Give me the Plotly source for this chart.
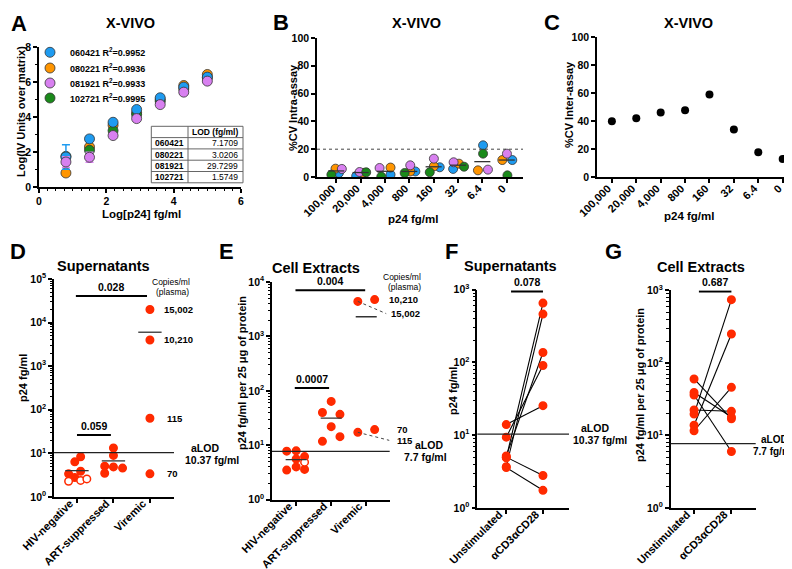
import numpy as np
import plotly.graph_objects as go

W, H = 792, 569
FONT = "Liberation Sans, Arial, sans-serif"
RED = "#ff2a00"

# ---------------- A: standard curves (log IV units vs log p24)
a_log_p24 = [0.8, 1.5, 2.2, 2.9, 3.6, 4.3, 5.0]
a_ids = ["060421", "080221", "081921", "102721"]
a_r2 = ["0.9952", "0.9936", "0.9933", "0.9995"]
a_lod = ["7.1709", "3.0206", "29.7299", "1.5749"]
a_060421 = [1.72, 2.75, 3.70, 4.43, 5.10, 5.71, 6.28]
a_080221 = [0.80, 2.29, 3.53, 4.24, 5.00, 5.80, 6.43]
a_081921 = [1.43, 1.70, 2.94, 3.91, 4.71, 5.42, 6.05]
a_102721 = [1.75, 2.10, 3.22, 4.14, 4.90, 5.60, 6.24]
a_err_060421 = [0.70, 0, 0, 0, 0, 0, 0]
a_err_081921 = [0.30, 0.28, 0, 0, 0, 0, 0]

# ---------------- B / C: %CV by p24 concentration
cv_cats = ["100,000", "20,000", "4,000", "800", "160", "32", "6.4", "0"]
b_060421 = [2.9, 0.7, 1.7, 4.0, 7.0, 5.8, 22.8, 12.2]
b_080221 = [6.0, 3.0, 6.8, 4.0, 7.7, 9.6, 4.8, 12.2]
b_081921 = [5.8, 3.6, 6.5, 8.4, 13.2, 10.6, 5.3, 16.8]
b_102721 = [1.7, 3.4, 0.3, 2.9, 3.4, 7.4, 16.8, 1.2]
c_inter = [39.8, 42.0, 46.0, 47.7, 59.0, 34.0, 17.7, 12.9]

# ---------------- D / E: p24 by group
groups = ["HIV-negative", "ART-suppressed", "Viremic"]
d_hivneg = [8.4, 6.4, 3.9, 3.4, 2.8]
d_hivneg_open = [2.3, 2.4, 2.6]
d_art = [13.3, 9.0, 5.1, 4.9, 4.6, 3.5]
d_viremic = [20000, 4000, 64, 3.4]
d_copies = ["15,002", "10,210", "115", "70"]
e_hivneg = [7.8, 7.9, 6.2, 5.6, 4.0, 3.5, 3.6]
e_hivneg_open = [4.9]
e_art = [64, 40, 37, 22, 14.4, 11.8]
e_viremic = [4400, 4750, 17.3, 19.4]
e_copies = ["15,002", "10,210", "115", "70"]

# ---------------- F / G: paired stimulation
stim_cats = ["Unstimulated", "αCD3αCD28"]
f_unstim = [14.0, 9.4, 5.2, 5.0, 4.9, 3.7, 3.6]
f_stim = [25.5, 91, 137, 2.8, 655, 462, 1.75]
g_unstim = [60, 39, 36, 22.4, 19.7, 13.8, 11.6]
g_stim = [17, 17.9, 6.0, 21.5, 743, 250, 46]

alod_sup = 10.37
alod_cell = 7.7

# jitter (category units) -- style only
b_jit = {
    "060421": [0.11, -0.18, 0.23, 0.25, 0.25, -0.20, 0.03, 0.23],
    "080221": [-0.03, 0.10, 0.23, 0.04, 0.01, 0.04, -0.18, -0.18],
    "081921": [0.23, -0.04, -0.22, 0.04, 0.01, -0.18, 0.23, 0.01],
    "102721": [-0.20, 0.23, -0.15, -0.19, -0.16, 0.25, 0.03, 0.03],
}
d_jit_neg = [0.10, -0.06, 0.10, -0.23, -0.06]
d_jit_neg_open = [-0.23, 0.10, 0.27]
d_jit_art = [0, 0, -0.24, 0, 0.25, -0.24]
e_jit_neg = [-0.27, 0, 0.24, 0, 0, -0.27, 0.24]
e_jit_neg_open = [0.24]
e_jit_art = [0, -0.25, 0.25, 0, 0.25, -0.25]
e_jit_vir = [-0.24, 0.24, -0.24, 0.24]

colors = {"060421": "#1e9bf0", "080221": "#ff9500", "081921": "#d880f0", "102721": "#1a8a1a"}


def px(x):
    return x / W


def py(y):
    return 1 - y / H


fig = go.Figure()

# ---- A (one small legend per series so the rows sit where the reference has them)
a_series = {"060421": a_060421, "080221": a_080221, "081921": a_081921, "102721": a_102721}
a_err = {"060421": a_err_060421, "081921": a_err_081921}
legend_of = {"060421": "legend", "080221": "legend2", "081921": "legend3", "102721": "legend4"}
for sid in ["080221", "102721", "060421", "081921"]:
    r2 = a_r2[a_ids.index(sid)]
    err = a_err.get(sid)
    fig.add_trace(go.Scatter(
        x=a_log_p24, y=a_series[sid], mode="markers", xaxis="x", yaxis="y",
        name=f"{sid} R<sup>2</sup>={r2}", legend=legend_of[sid],
        marker=dict(size=10, color=colors[sid], line=dict(width=0.8, color="#333")),
        error_y=dict(type="data", array=err, color=colors[sid], thickness=1.5, width=4, visible=err is not None),
        showlegend=True,
    ))

# ---- B
for sid, vals in [("060421", b_060421), ("080221", b_080221), ("081921", b_081921), ("102721", b_102721)]:
    fig.add_trace(go.Scatter(
        x=[i + j for i, j in enumerate(b_jit[sid])], y=vals, mode="markers",
        xaxis="x2", yaxis="y2", showlegend=False,
        marker=dict(size=9, color=colors[sid], line=dict(width=0.8, color="#333")),
    ))
b_med = np.median([b_060421, b_080221, b_081921, b_102721], axis=0)
mx, my = [], []
for i, m in enumerate(b_med):
    mx += [i - 0.33, i + 0.33, None]
    my += [m, m, None]
fig.add_trace(go.Scatter(x=mx, y=my, mode="lines", xaxis="x2", yaxis="y2", showlegend=False,
                         line=dict(color="#333", width=1.3)))

# ---- C
fig.add_trace(go.Scatter(x=list(range(len(cv_cats))), y=c_inter, mode="markers", xaxis="x3", yaxis="y3",
                         showlegend=False, marker=dict(size=8, color="black")))


def mean_line(means, xa, ya, w):
    lx, ly = [], []
    for i, m in enumerate(means):
        lx += [i - w, i + w, None]
        ly += [m, m, None]
    fig.add_trace(go.Scatter(x=lx, y=ly, mode="lines", xaxis=xa, yaxis=ya, showlegend=False,
                             line=dict(color="#333", width=1.3)))


def red_pts(xs, ys, xa, ya, hollow=False):
    fig.add_trace(go.Scatter(
        x=xs, y=ys, mode="markers", xaxis=xa, yaxis=ya, showlegend=False,
        marker=dict(size=7.5, color="white" if hollow else RED, line=dict(width=1.5, color=RED)),
    ))


# ---- D
red_pts([0 + j for j in d_jit_neg], d_hivneg, "x4", "y4")
red_pts([0 + j for j in d_jit_neg_open], d_hivneg_open, "x4", "y4", hollow=True)
red_pts([1 + j for j in d_jit_art], d_art, "x4", "y4")
red_pts([2] * len(d_viremic), d_viremic, "x4", "y4")
mean_line([np.mean(d_hivneg + d_hivneg_open), np.mean(d_art), np.mean(d_viremic)], "x4", "y4", 0.32)

# ---- E
red_pts([0 + j for j in e_jit_neg], e_hivneg, "x5", "y5")
red_pts([0 + j for j in e_jit_neg_open], e_hivneg_open, "x5", "y5", hollow=True)
red_pts([1 + j for j in e_jit_art], e_art, "x5", "y5")
red_pts([2 + j for j in e_jit_vir], e_viremic, "x5", "y5")
mean_line([np.mean(e_hivneg + e_hivneg_open), np.mean(e_art), np.mean(e_viremic)], "x5", "y5", 0.3)

# dotted connectors from viremic points to copy-number labels (E)
conn_ends = [(2.57, 2625), (2.66, 12.3)]
for k, (cx, cy) in zip([0, 2], conn_ends):
    fig.add_trace(go.Scatter(x=[2 + e_jit_vir[k], cx], y=[e_viremic[k], cy], mode="lines",
                             xaxis="x5", yaxis="y5", showlegend=False,
                             line=dict(color="#444", width=1, dash="dot")))


# ---- F / G paired
def paired(u, s, xa, ya):
    lx, ly = [], []
    for a, b in zip(u, s):
        lx += [0, 1, None]
        ly += [a, b, None]
    fig.add_trace(go.Scatter(x=lx, y=ly, mode="lines", xaxis=xa, yaxis=ya, showlegend=False,
                             line=dict(color="black", width=1.1)))
    red_pts([0] * len(u) + [1] * len(s), u + s, xa, ya)


paired(f_unstim, f_stim, "x6", "y6")
paired(g_unstim, g_stim, "x7", "y7")

# significance bars: (xaxis, yaxis, x0, x1, y, text)
sig_bars = [
    ("x4", "y4", -0.03, 1.92, 4.1e4, "0.028"),
    ("x4", "y4", 0.0, 0.93, 26.4, "0.059"),
    ("x5", "y5", -0.02, 1.97, 7080, "0.004"),
    ("x5", "y5", -0.04, 0.94, 113, "0.0007"),
    ("x6", "y6", 0.13, 1.0, 948, "0.078"),
    ("x7", "y7", 0.13, 1.0, 966, "0.687"),
]
annotations = []
for xa, ya, x0, x1, yv, t in sig_bars:
    fig.add_trace(go.Scatter(x=[x0, x1], y=[yv, yv], mode="lines", xaxis=xa, yaxis=ya, showlegend=False,
                             line=dict(color="black", width=2), cliponaxis=False))
    annotations.append(dict(x=(x0 + x1) / 2, y=np.log10(yv), xref=xa, yref=ya, text=t, showarrow=False,
                            yanchor="bottom", yshift=1, font=dict(size=10.5)))

# ---------------- axes
tickfont = dict(size=10.5, family=FONT, color="black", weight="bold")
cat_tickfont = dict(size=11, family=FONT, color="black", weight="bold")


def base_axis(**kw):
    d = dict(showline=True, linecolor="black", linewidth=1.6, ticks="outside", ticklen=4, tickwidth=1.5,
             tickcolor="black", showgrid=False, zeroline=False, tickfont=tickfont, fixedrange=True,
             automargin=False)
    d.update(kw)
    return d


def log_axis(top, **kw):
    return base_axis(type="log", range=[0, top], tickmode="array",
                     tickvals=[10 ** k for k in range(top + 1)],
                     ticktext=[f"10<sup>{k}</sup>" for k in range(top + 1)],
                     minor=dict(ticks="outside", ticklen=2.5, tickwidth=1, tickcolor="black", dtick="D1"),
                     **kw)


def cat_axis(labels, rng, standoff=-10, shift=-7, **kw):
    # rotated labels sit tight under the tick, as in the reference
    return base_axis(tickmode="array", tickvals=list(range(len(labels))), ticktext=labels,
                     tickangle=-45, range=rng, tickfont=cat_tickfont,
                     ticklabelstandoff=standoff, ticklabelshift=shift, **kw)


layout_axes = dict(
    xaxis=base_axis(domain=[px(31), px(233)], range=[0, 6], dtick=2, anchor="y",
                    minor=dict(ticks="outside", dtick=0.25, ticklen=2.5, tickwidth=1, tickcolor="black")),
    yaxis=base_axis(domain=[py(179), py(39)], range=[0, 8], dtick=2, anchor="x",
                    minor=dict(ticks="outside", dtick=1, ticklen=2.5, tickwidth=1, tickcolor="black")),
    xaxis2=cat_axis(cv_cats, [-0.79, 7.67], standoff=-5, shift=-4, domain=[px(309), px(515)], anchor="y2"),
    yaxis2=base_axis(domain=[py(169), py(30)], range=[0, 100], dtick=20, anchor="x2"),
    xaxis3=cat_axis(cv_cats, [-0.61, 7.3], standoff=-5, shift=-4, domain=[px(589), px(782)], anchor="y3"),
    yaxis3=base_axis(domain=[py(169), py(29)], range=[0, 100], dtick=20, anchor="x3"),
    xaxis4=cat_axis(groups, [-0.63, 2.66], domain=[px(46), px(166)], anchor="y4"),
    yaxis4=log_axis(5, domain=[py(489), py(271)], anchor="x4"),
    xaxis5=cat_axis(groups, [-0.69, 2.67], domain=[px(264), px(381.7)], anchor="y5"),
    yaxis5=log_axis(4, domain=[py(491.7), py(274)], anchor="x5"),
    xaxis6=cat_axis(stim_cats, [-0.79, 1.71], domain=[px(469.3), px(561)], anchor="y6"),
    yaxis6=log_axis(3, domain=[py(500), py(281.7)], anchor="x6"),
    xaxis7=cat_axis(stim_cats, [-0.625, 1.65], domain=[px(662.7), px(747.7)], anchor="y7"),
    yaxis7=log_axis(3, domain=[py(500), py(282.3)], anchor="x7"),
)

# ---------------- shapes: aLOD lines, dotted 20% line, LOD table
shapes = []
for xa, ya, v in [("x4", "y4", alod_sup), ("x5", "y5", alod_cell), ("x6", "y6", alod_sup), ("x7", "y7", alod_cell)]:
    shapes.append(dict(type="line", xref=f"{xa} domain", yref=ya, x0=0, x1=1, y0=v, y1=v,
                       line=dict(color="#222", width=1.3)))
shapes.append(dict(type="line", xref="x2 domain", yref="y2", x0=0, x1=1, y0=20, y1=20,
                   line=dict(color="#444", width=1, dash="dot")))

tbl_left, tbl_mid, tbl_right = 143.3, 180, 235
row_edges = [118.3, 129.6, 140.9, 152.2, 163.5, 174.8]
shapes.append(dict(type="rect", xref="paper", yref="paper", x0=px(tbl_left), x1=px(tbl_right),
                   y0=py(row_edges[-1]), y1=py(row_edges[0]), line=dict(color="#666", width=1),
                   fillcolor="white", layer="above"))
shapes.append(dict(type="line", xref="paper", yref="paper", x0=px(tbl_mid), x1=px(tbl_mid),
                   y0=py(row_edges[-1]), y1=py(row_edges[0]), line=dict(color="#666", width=1)))
for ry in row_edges[1:-1]:
    shapes.append(dict(type="line", xref="paper", yref="paper", x0=px(tbl_left), x1=px(tbl_right),
                       y0=py(ry), y1=py(ry), line=dict(color="#666", width=1)))


def ann(x, y, text, size=10, xanchor="center", **kw):
    d = dict(x=px(x), y=py(y), xref="paper", yref="paper", text=text, showarrow=False,
             xanchor=xanchor, yanchor="middle", font=dict(size=size), borderpad=0)
    d.update(kw)
    annotations.append(d)


# table text
ann(231, (row_edges[0] + row_edges[1]) / 2, "LOD (fg/ml)", size=8.5, xanchor="right")
for k, (sid, lod) in enumerate(zip(a_ids, a_lod)):
    yc = (row_edges[k + 1] + row_edges[k + 2]) / 2
    ann(146, yc, sid, size=8.5, xanchor="left")
    ann(231.5, yc, lod, size=8.5, xanchor="right", font=dict(size=8.5, weight="normal"))

# panel letters and titles
for letter, x, y in [("A", 11, 15), ("B", 273, 14), ("C", 544, 14),
                     ("D", 10, 243), ("E", 218, 243), ("F", 443, 243), ("G", 605, 243)]:
    ann(x, y, letter, size=22)
for t, x, y in [("X-VIVO", 122, 15), ("X-VIVO", 408, 15), ("X-VIVO", 680, 15),
                ("Supernatants", 95, 258), ("Cell Extracts", 308, 260),
                ("Supernatants", 503, 258), ("Cell Extracts", 693, 259)]:
    ann(x, y, t, size=14.5)

# axis titles
for t, x, y in [("Log[p24] fg/ml", 133, 206), ("p24 fg/ml", 405, 211), ("p24 fg/ml", 681, 208)]:
    ann(x, y, t, size=11.5)
for t, x, y in [("Log(IV Units over matrix)", 13, 104), ("%CV Intra-assay", 285, 100),
                ("%CV Inter-assay", 561, 97), ("p24 fg/ml", 15, 370),
                ("p24 fg/ml per 25 μg of protein", 234, 365), ("p24 fg/ml", 445, 383),
                ("p24 fg/ml per 25 μg of protein", 632, 377)]:
    ann(x, y, t, size=11, textangle=-90)

# aLOD labels
for t, x, y, s in [("aLOD", 197, 440, 10.5), ("10.37 fg/ml", 204, 451.5, 10.5),
                   ("aLOD", 421, 437, 10.5), ("7.7 fg/ml", 417, 449, 10.5),
                   ("aLOD", 587, 420, 10.5), ("10.37 fg/ml", 592, 432, 10.5),
                   ("aLOD", 766, 431, 10), ("7.7 fg/ml", 765, 443, 10)]:
    ann(x, y, t, size=s)

# copies/ml labels
ann(163, 274, "Copies/ml", size=8.5, font=dict(size=8.5, weight="normal"))
ann(164, 284, "(plasma)", size=8.5, font=dict(size=8.5, weight="normal"))
ann(394, 268.5, "Copies/ml", size=8.5, font=dict(size=8.5, weight="normal"))
ann(396, 279, "(plasma)", size=8.5, font=dict(size=8.5, weight="normal"))
d_lab_x = [154, 154, 157, 157]
for t, v, lx in zip(d_copies, d_viremic, d_lab_x):
    annotations.append(dict(x=px(lx), y=np.log10(v), xref="paper", yref="y4", text=t, showarrow=False,
                            xanchor="left", font=dict(size=9.5)))
e_lab = [(381, 2625), (379, e_viremic[1]), (387, 12.2), (387, e_viremic[3])]
for t, (lx, v) in zip(e_copies, e_lab):
    annotations.append(dict(x=px(lx), y=np.log10(v), xref="paper", yref="y5", text=t, showarrow=False,
                            xanchor="left", font=dict(size=9.5)))

# legend rows for panel A
legend_rows = {}
for k, y in zip(["legend", "legend2", "legend3", "legend4"], [44.3, 60, 75, 90]):
    legend_rows[k] = dict(x=px(22), y=py(y), xanchor="left", yanchor="middle", bgcolor="rgba(0,0,0,0)",
                          font=dict(size=9), itemwidth=30, borderwidth=0)

fig.update_layout(
    template="none",
    width=W, height=H, margin=dict(l=0, r=0, t=0, b=0, pad=0), autosize=False,
    paper_bgcolor="white", plot_bgcolor="white",
    font=dict(family=FONT, size=10, color="black", weight="bold"),
    showlegend=True,
    shapes=shapes, annotations=annotations,
    **legend_rows,
    **layout_axes,
)

fig.write_html("out.html")
